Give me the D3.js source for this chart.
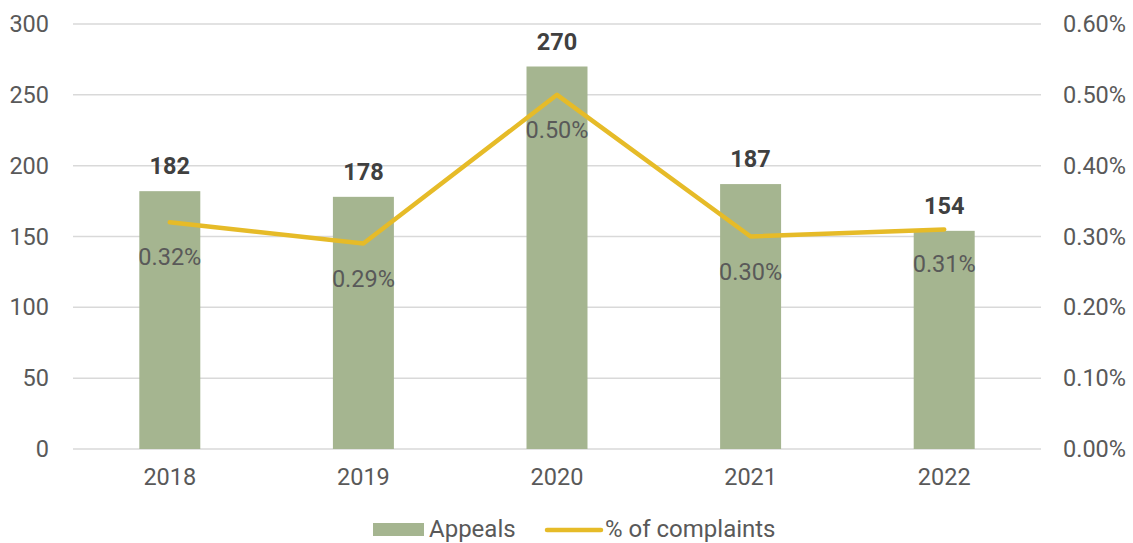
<!DOCTYPE html>
<html>
<head>
<meta charset="utf-8">
<script src="https://cdn.jsdelivr.net/npm/d3@7"></script>
<style>
  body { margin: 0; background: #fff; }
  svg { font-family: Roboto, "Noto Sans", sans-serif; }
</style>
</head>
<body>
<svg id="chart" width="1133" height="543"></svg>
<script>
var years = ["2018", "2019", "2020", "2021", "2022"];
var appeals = [182, 178, 270, 187, 154];
var pctComplaints = [0.0032, 0.0029, 0.0050, 0.0030, 0.0031];
var leftTicks = [0, 50, 100, 150, 200, 250, 300];
var rightTicks = [0, 0.001, 0.002, 0.003, 0.004, 0.005, 0.006];

var svg = d3.select("#chart");
var margin = {top: 24, right: 92, bottom: 94, left: 73};
var width = 1133 - margin.left - margin.right,
    height = 543 - margin.top - margin.bottom;

var barColor = "#a5b590",
    lineColor = "#e6bb28",
    textColor = "#595959",
    fs = "23.5px";

var g = svg.append("g")
  .attr("transform", "translate(" + margin.left + "," + margin.top + ")");

var x = d3.scaleBand()
  .domain(years)
  .range([0, width])
  .paddingInner(0.685)
  .paddingOuter(0.3425);

var y = d3.scaleLinear().domain([0, 300]).range([height, 0]);
var y2 = d3.scaleLinear().domain([0, 0.006]).range([height, 0]);

// gridlines
g.selectAll("line.grid")
  .data(leftTicks)
  .enter()
  .append("line")
  .attr("class", "grid")
  .attr("x1", 0)
  .attr("x2", width)
  .attr("y1", d => y(d))
  .attr("y2", d => y(d))
  .attr("stroke", "#d9d9d9")
  .attr("stroke-width", 1.5);

// left axis
var yAxis = g.append("g")
  .call(d3.axisLeft(y).tickValues(leftTicks).tickSize(0).tickPadding(24));
yAxis.select(".domain").remove();
yAxis.selectAll("text")
  .attr("font-size", fs)
  .attr("fill", textColor)
  .attr("font-family", "Roboto, sans-serif");

// right axis
var yAxis2 = g.append("g")
  .attr("transform", "translate(" + width + ",0)")
  .call(d3.axisRight(y2).tickValues(rightTicks).tickSize(0).tickPadding(22).tickFormat(d3.format(".2%")));
yAxis2.select(".domain").remove();
yAxis2.selectAll("text")
  .attr("font-size", fs)
  .attr("fill", textColor)
  .attr("font-family", "Roboto, sans-serif");

// x axis
var xAxis = g.append("g")
  .attr("transform", "translate(0," + height + ")")
  .call(d3.axisBottom(x).tickSize(0).tickPadding(19));
xAxis.select(".domain").remove();
xAxis.selectAll("text")
  .attr("font-size", fs)
  .attr("fill", textColor)
  .attr("font-family", "Roboto, sans-serif");

// bars
g.selectAll("rect.bar")
  .data(appeals)
  .enter()
  .append("rect")
  .attr("class", "bar")
  .attr("x", (d, i) => x(years[i]))
  .attr("y", d => y(d))
  .attr("width", x.bandwidth())
  .attr("height", d => height - y(d))
  .attr("fill", barColor);

// bar labels
g.selectAll("text.barlabel")
  .data(appeals)
  .enter()
  .append("text")
  .attr("class", "barlabel")
  .attr("x", (d, i) => x(years[i]) + x.bandwidth() / 2)
  .attr("y", d => y(d) - 17)
  .attr("text-anchor", "middle")
  .attr("font-size", fs)
  .attr("font-weight", "bold")
  .attr("fill", "#404040")
  .text(d => d);

// line
var line = d3.line()
  .x((d, i) => x(years[i]) + x.bandwidth() / 2)
  .y(d => y2(d));

g.append("path")
  .datum(pctComplaints)
  .attr("d", line)
  .attr("fill", "none")
  .attr("stroke", lineColor)
  .attr("stroke-width", 4.5)
  .attr("stroke-linejoin", "round")
  .attr("stroke-linecap", "round");

// line labels
g.selectAll("text.pctlabel")
  .data(pctComplaints)
  .enter()
  .append("text")
  .attr("class", "pctlabel")
  .attr("x", (d, i) => x(years[i]) + x.bandwidth() / 2)
  .attr("y", d => y2(d) + 43)
  .attr("text-anchor", "middle")
  .attr("font-size", fs)
  .attr("fill", textColor)
  .text(d => d3.format(".2%")(d));

// legend
var legend = svg.append("g")
  .attr("transform", "translate(373,529)");

legend.append("rect")
  .attr("x", 0)
  .attr("y", -6)
  .attr("width", 51)
  .attr("height", 13)
  .attr("fill", barColor);

legend.append("text")
  .attr("x", 56)
  .attr("y", 8)
  .attr("font-size", "24px")
  .attr("fill", textColor)
  .text("Appeals");

legend.append("line")
  .attr("x1", 174)
  .attr("x2", 228)
  .attr("y1", 1)
  .attr("y2", 1)
  .attr("stroke", lineColor)
  .attr("stroke-width", 4.5)
  .attr("stroke-linecap", "round");

legend.append("text")
  .attr("x", 232)
  .attr("y", 8)
  .attr("font-size", "24px")
  .attr("fill", textColor)
  .text("% of complaints");
</script>
</body>
</html>
